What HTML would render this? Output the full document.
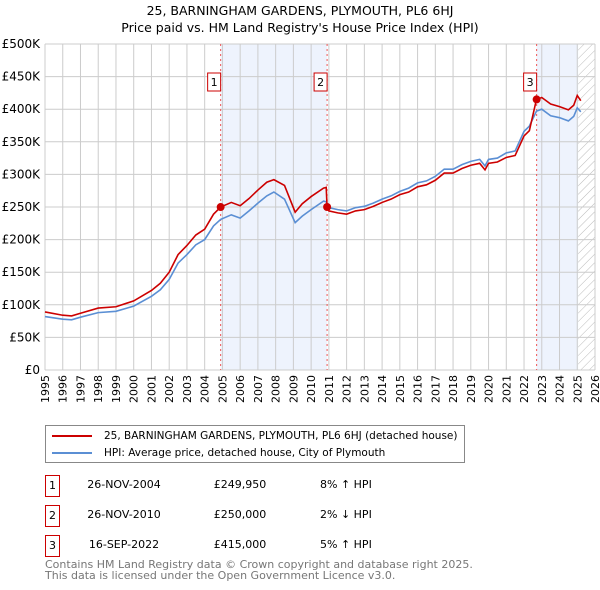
<!DOCTYPE html>
<html><head><meta charset="utf-8"><style>
body{margin:0;width:600px;height:590px;background:#fff;font-family:"DejaVu Sans","Liberation Sans",sans-serif;overflow:hidden;position:relative}
.t{position:absolute;font-size:12px;color:#000;white-space:nowrap}
</style></head><body>
<div class="t" style="left:0;width:600px;text-align:center;top:2px;font-size:12.5px;line-height:17px">25, BARNINGHAM GARDENS, PLYMOUTH, PL6 6HJ<br>Price paid vs. HM Land Registry's House Price Index (HPI)</div>
<svg id="chart" width="600" height="410" style="position:absolute;left:0;top:0" font-family="DejaVu Sans, Liberation Sans, sans-serif"></svg>
<div style="position:absolute;left:45px;top:425px;width:418px;height:36px;border:1px solid #888;font-size:10.5px;white-space:nowrap">
 <div style="position:absolute;left:6px;top:4px"><span style="display:inline-block;width:40px;height:2px;background:#cc0000;vertical-align:middle;margin-right:12px"></span>25, BARNINGHAM GARDENS, PLYMOUTH, PL6 6HJ (detached house)</div>
 <div style="position:absolute;left:6px;top:21px"><span style="display:inline-block;width:40px;height:2px;background:#5b8fd4;vertical-align:middle;margin-right:12px"></span>HPI: Average price, detached house, City of Plymouth</div>
</div>
<div id="rows"></div>
<div class="t" style="left:45px;top:559px;font-size:11px;color:#777;line-height:11px">Contains HM Land Registry data © Crown copyright and database right 2025.<br>This data is licensed under the Open Government Licence v3.0.</div>
<script>
const years=[1995,1996,1996.5,1997,1998,1999,2000,2001,2001.5,2002,2002.5,2003,2003.5,2004,2004.5,2004.9,2005.5,2006,2006.5,2007,2007.5,2007.9,2008.5,2009.1,2009.5,2010,2010.7,2010.85,2010.9,2011,2011.5,2012,2012.5,2013,2013.5,2014,2014.5,2015,2015.5,2016,2016.5,2017,2017.5,2018,2018.5,2019,2019.5,2019.8,2020,2020.5,2021,2021.5,2022,2022.3,2022.7,2023,2023.5,2024,2024.5,2024.8,2025,2025.2];
const hpi=[82,78,77,81,88,90,98,113,123,139,164,177,192,200,221,231,238,233,244,256,267,273,262,226,236,246,259,258,255,249,246,244,249,251,256,262,267,274,279,287,290,297,308,308,315,320,323,313,323,325,333,336,366,374,397,400,390,387,382,389,402,396];
const price=[89,84,83,87,95,97,106,122,133,150,177,191,207,216,239,250,257,252,263,276,288,292,283,242,255,266,279,280,250,244,241,239,244,246,251,257,262,269,273,281,284,291,302,302,309,314,317,307,317,319,326,329,359,367,415,418,408,404,399,406,421,413];
const saleYears=[2004.9,2010.9,2022.71];
const saleValues=[249.95,250,415];
const saleLabels=["1","2","3"];
const saleDates=["26-NOV-2004","26-NOV-2010","16-SEP-2022"];
const salePrices=["£249,950","£250,000","£415,000"];
const saleHpi=["8% ↑ HPI","2% ↓ HPI","5% ↑ HPI"];
const yTicks=[0,50,100,150,200,250,300,350,400,450,500];
const yLabels=["£0","£50K","£100K","£150K","£200K","£250K","£300K","£350K","£400K","£450K","£500K"];
const xTicks=[];for(let y=1995;y<=2026;y++)xTicks.push(y);
const X0=45,X1=595,Y0=370,Y1=44,dataEnd=2025.05;
const xs=v=>X0+(v-1995)/(2026-1995)*(X1-X0);
const ys=v=>Y0-v/500*(Y0-Y1);
const svg=document.getElementById('chart');const NS='http://www.w3.org/2000/svg';
function mk(t,a){const e=document.createElementNS(NS,t);for(const k in a)e.setAttribute(k,a[k]);svg.appendChild(e);return e;}
for(let i=0;i<3;i++){const a=saleYears[i],b=i<2?saleYears[i+1]:dataEnd;if(i==0||i==2){
 const r=mk('rect',{x:xs(a),y:Y1,width:xs(b)-xs(a),height:Y0-Y1,fill:'#eef3fd'});
 
 }}
const defs=mk('defs',{});defs.innerHTML='<pattern id="h" width="6" height="6" patternUnits="userSpaceOnUse" patternTransform="rotate(45)"><line x1="0" y1="0" x2="0" y2="6" stroke="#bbb" stroke-width="1"/></pattern>';
const hr=mk('rect',{x:xs(dataEnd),y:Y1,width:X1-xs(dataEnd),height:Y0-Y1,fill:'url(#h)'});


xTicks.forEach(t=>{const l=mk('line',{x1:xs(t),x2:xs(t),y1:Y1,y2:Y0,stroke:'#ccc','stroke-width':1});
 
 
 const tx=mk('text',{x:0,y:0,transform:`translate(${xs(t)+4},375) rotate(-90)`,'text-anchor':'end','font-size':11});tx.textContent=t;
 
 });
yTicks.forEach((t,i)=>{const l=mk('line',{x1:X0,x2:X1,y1:ys(t),y2:ys(t),stroke:'#ccc','stroke-width':1});
 
 
 const tx=mk('text',{x:40,y:ys(t)+4,'text-anchor':'end','font-size':12});tx.textContent=yLabels[i];
 
 });
saleYears.forEach((s,i)=>{const l=mk('line',{x1:xs(s),x2:xs(s),y1:Y1,y2:Y0,stroke:'#e55','stroke-width':1,'stroke-dasharray':'2,3'});
 
 
 const r=mk('rect',{x:xs(s)-13,y:73,width:13,height:18,fill:'#fff',stroke:'#c00'});
 
 
 const tx=mk('text',{x:xs(s)-6.5,y:86,'text-anchor':'middle','font-size':11});tx.textContent=saleLabels[i];
 
 });
const pl=(arr,c,n)=>{const p=mk('polyline',{points:years.map((y,i)=>xs(y)+','+ys(arr[i])).join(' '),fill:'none',stroke:c,'stroke-width':1.6});
 
 };
pl(hpi,'#5b8fd4','hpi-line');pl(price,'#cc0000','price-line');
saleYears.forEach((s,i)=>{const c=mk('circle',{cx:xs(s),cy:ys(saleValues[i]),r:4,fill:'#cc0000'});
 
 });
const rows=document.getElementById('rows');
saleYears.forEach((s,i)=>{const top=475+i*30;const d=document.createElement('div');
 
 
 d.innerHTML=`<div class="t" style="left:45px;top:${top}px;width:13px;height:20px;border:1px solid #c00;text-align:center;line-height:20px;font-size:11px">${saleLabels[i]}</div><div class="t" style="left:84px;width:80px;text-align:center;top:${top+3}px;font-size:11px">${saleDates[i]}</div><div class="t" style="left:200px;width:80px;text-align:center;top:${top+3}px;font-size:11px">${salePrices[i]}</div><div class="t" style="left:320px;top:${top+3}px;font-size:11px">${saleHpi[i]}</div>`;
 rows.appendChild(d);});
</script>
</body></html>
